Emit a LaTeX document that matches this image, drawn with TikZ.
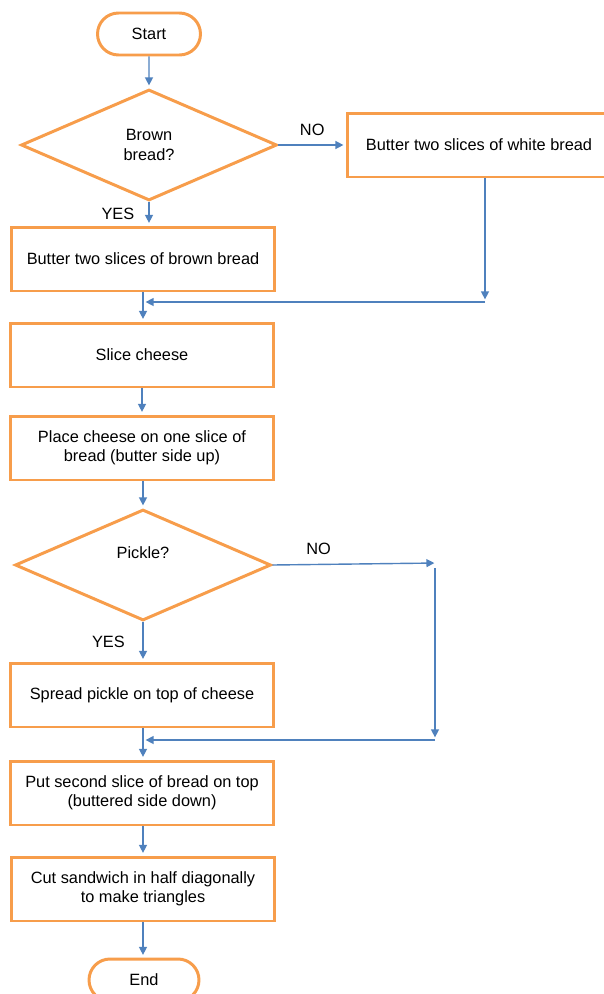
\documentclass[tikz,border=0pt]{standalone}
\usepackage{fontspec}
\setmainfont{Liberation Sans}
\usepackage{tikz}
\usetikzlibrary{arrows.meta, positioning, shapes.geometric, shapes.misc}
\definecolor{boxorange}{RGB}{247,157,75}
\definecolor{linkblue}{RGB}{79,129,189}

\begin{document}
\begin{tikzpicture}[x=0.02cm, y=-0.02cm,
    >={Triangle[length=4.5pt,width=4.5pt]},
    every node/.style={font=\fontsize{9.3}{11}\selectfont, align=center, inner sep=0pt},
    terminal/.style={draw=boxorange, line width=1.7pt, rounded rectangle, minimum width=2.06cm, minimum height=0.84cm},
    process/.style={draw=boxorange, line width=1.7pt, rectangle, minimum width=5.26cm, minimum height=1.28cm},
    decision/.style={draw=boxorange, line width=1.7pt, diamond, minimum width=5.12cm, minimum height=2.22cm},
    link/.style={draw=linkblue, line width=0.8pt, ->, shorten >=1.5pt}]
    \useasboundingbox (0,0) rectangle (603,994);

    % Etapes du haut
    \node[terminal] (start)       at (149,34)   {Start};
    \node[decision] (brown)       at (149,145)  {Brown\\bread?};
    \node[process]  (white)       at (479,145)  {Butter two slices of white bread};
    \node[process]  (butterbrown) at (143,259)  {Butter two slices of brown bread};
    \node[process]  (slice)       at (142,355)  {Slice cheese};
    \node[process]  (place)       at (142,448)  {Place cheese on one slice of\\bread (butter side up)};

    % Deuxieme choix
    \node[decision] (pickle)      at (143,565)  {};
    \node           (pickletext)  at (143,553)  {Pickle?};
    \node[process]  (spread)      at (142,695)  {Spread pickle on top of cheese};
    \node[process]  (second)      at (142,793)  {Put second slice of bread on top\\(buttered side down)};
    \node[process]  (cut)         at (143,889)  {Cut sandwich in half diagonally\\to make triangles};
    \node[terminal, minimum width=2.2cm] (end) at (144,980) {End};

    % Points de jonction
    \coordinate (w1) at (485,302);
    \coordinate (w2) at (143,302);
    \coordinate (p1) at (437,563);
    \coordinate (p2) at (435,740);
    \coordinate (p3) at (143,740);

    % Fleches
    \draw[link] (start) -- (brown);
    \draw[link] (brown.east) -- (white.west) node[midway, above=5pt] (no1) {NO};
    \draw[link] (brown.south) -- (brown.south |- butterbrown.north) node[midway, left=8pt] (yes1) {YES};
    \draw[link] (white.south -| w1) -- (w1);
    \draw[link] (w1) -- (w2);
    \draw[link] (w2 |- butterbrown.south) -- (w2 |- slice.north);
    \draw[link] (slice) -- (place);
    \draw[link] (place.south -| w2) -- (w2 |- pickle.north);
    \draw[link] (pickle.east) -- (p1) node[pos=0.28, above=5pt] (no2) {NO};
    \draw[link] (p2 |- 0,568) -- (p2);
    \draw[link] (p2) -- (p3);
    \draw[link] (pickle.south) -- (pickle.south |- spread.north) node[midway, left=10pt] (yes2) {YES};
    \draw[link] (p3 |- spread.south) -- (p3 |- second.north);
    \draw[link] (p3 |- second.south) -- (p3 |- cut.north);
    \draw[link] (p3 |- cut.south) -- (p3 |- end.north);

\end{tikzpicture}
\end{document}
